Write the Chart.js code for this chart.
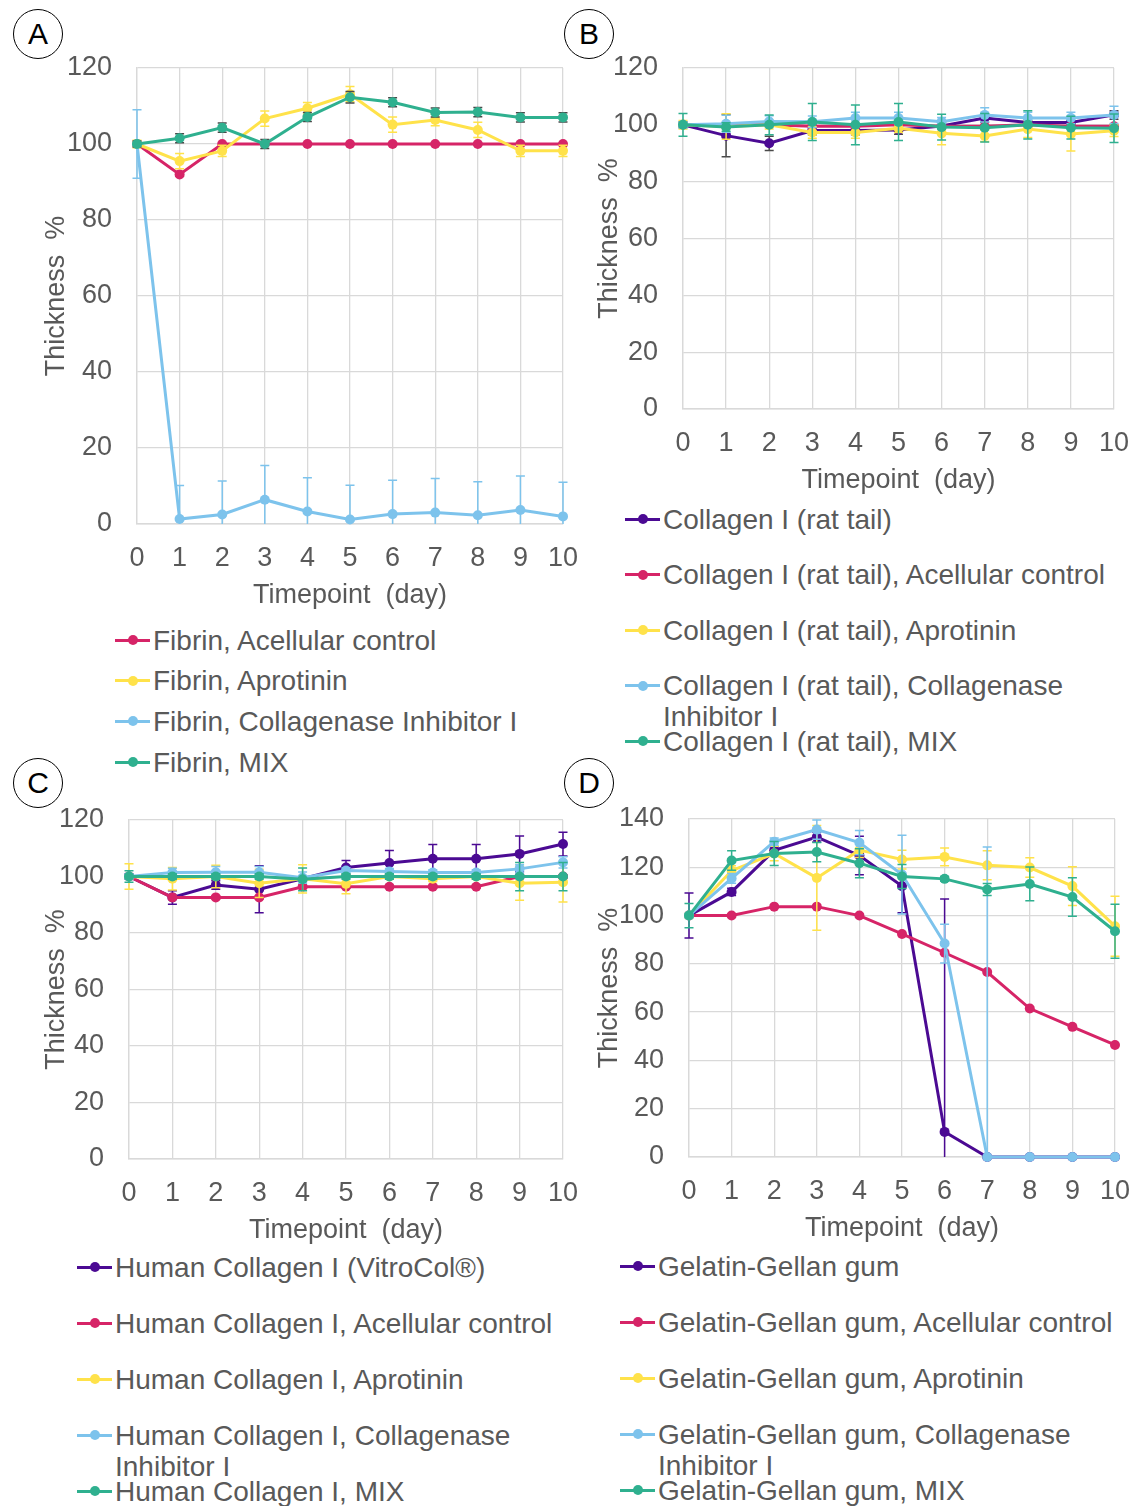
<!DOCTYPE html>
<html lang="en">
  <head>
    <meta charset="utf-8" />
    <title>Thickness % over time</title>
    <style>
      * {
        margin: 0;
        padding: 0;
      }
      body {
        width: 1142px;
        height: 1506px;
        position: relative;
        overflow: hidden;
        background: #fff;
        font-family: "Liberation Sans", Arial, sans-serif;
        color: #595959;
      }
      canvas {
        position: absolute;
      }
      .tag {
        position: absolute;
        width: 48px;
        height: 48px;
        border: 1.5px solid #000;
        border-radius: 50%;
        color: #000;
        font-size: 30px;
        line-height: 48px;
        text-align: center;
      }
      .legend {
        position: absolute;
        width: 530px;
        font-size: 28px;
      }
      .legend .item {
        position: relative;
        padding-left: 38px;
        width: 480px;
        line-height: 31px;
      }
      .legend .mark {
        position: absolute;
        left: 0;
        top: 14px;
        width: 35px;
        height: 3px;
      }
      .legend .dot {
        position: absolute;
        left: 12.5px;
        top: -3.5px;
        width: 10px;
        height: 10px;
        border-radius: 50%;
      }
    </style>
  </head>
  <body>
    <div class="tag" style="left: 13px; top: 9px">A</div>
    <div class="tag" style="left: 564px; top: 9px">B</div>
    <div class="tag" style="left: 13px; top: 758px">C</div>
    <div class="tag" style="left: 564px; top: 758px">D</div>

    <canvas id="chartA"></canvas>
    <canvas id="chartB"></canvas>
    <canvas id="chartC"></canvas>
    <canvas id="chartD"></canvas>

    <div class="legend" id="legendA" style="left: 115px; top: 624.5px"></div>
    <div class="legend" id="legendB" style="left: 625px; top: 503.5px"></div>
    <div class="legend" id="legendC" style="left: 77px; top: 1251.5px"></div>
    <div class="legend" id="legendD" style="left: 620px; top: 1250.5px"></div>

    <script src="https://cdn.jsdelivr.net/npm/chart.js/dist/chart.umd.min.js"></script>
    <script>
      // setup
      const days = ["0", "1", "2", "3", "4", "5", "6", "7", "8", "9", "10"];

      // A - fibrin
      const fibrinAcellular = [100, 92, 100, 100, 100, 100, 100, 100, 100, 100, 100];
      const fibrinAcellularErr = [0, 0.5, 0, 0, 0, 0, 0, 0, 0, 0, 0];
      const fibrinAprotinin = [100, 95.5, 98.2, 106.7, 109.4, 113.1, 105.1, 106.3, 103.7, 98.2, 98.2];
      const fibrinAprotininErr = [1, 2, 1.5, 2, 1.5, 2, 2, 1.5, 2, 1.5, 1.5];
      const fibrinInhibitor = [100, 1.3, 2.5, 6.4, 3.3, 1.2, 2.6, 3.0, 2.3, 3.7, 2.0];
      const fibrinInhibitorErr = [9, 8.8, 8.8, 9, 8.9, 9, 8.9, 9, 8.8, 8.9, 9];
      const fibrinMix = [100, 101.5, 104.3, 100, 107.1, 112.3, 111, 108.3, 108.4, 107, 107];
      const fibrinMixErr = [0.8, 1.2, 1.2, 1.2, 1.2, 1.5, 1.2, 1.2, 1.2, 1.2, 1.2];

      // B - collagen I (rat tail)
      const ratTail = [100, 96.2, 93.5, 98, 98, 98.2, 99.6, 102.4, 100.8, 100.8, 103.5];
      const ratTailErr = [1, 7.4, 2.5, 1.5, 1.5, 1.5, 1, 1.5, 1.5, 1.5, 1.5];
      const ratAcellular = [100, 100, 100, 99.5, 99.5, 100, 99.5, 99.5, 100, 99.5, 99.5];
      const ratAcellularErr = [0, 0, 0, 0, 0, 0, 0, 0, 0, 0, 0];
      const ratAprotinin = [100, 99.4, 100, 97.3, 97.3, 98.8, 97, 96.1, 98.5, 96.8, 97.9];
      const ratAprotininErr = [1.5, 4.5, 1.5, 2, 2, 1.5, 4, 2, 3, 6, 2];
      const ratInhibitor = [100, 100.4, 101.2, 101.1, 102.4, 102.4, 101.1, 103.5, 102.4, 102.4, 103.5];
      const ratInhibitorErr = [1, 3, 2, 2, 2, 2, 1.5, 2.5, 2, 2, 3];
      const ratMix = [100, 99.2, 100, 101, 100, 101, 99.2, 99, 100, 99, 98.8];
      const ratMixErr = [4, 1.5, 3.5, 6.5, 7, 6.5, 4.5, 5, 5, 4, 5];

      // C - human collagen I
      const vitroCol = [100, 92.6, 97, 95.5, 99.2, 103.2, 104.8, 106.3, 106.3, 108, 111.5];
      const vitroColErr = [1, 2.4, 1.5, 8.3, 1, 2.5, 4.4, 5, 5, 6.3, 4.2];
      const humanAcellular = [100, 92.6, 92.6, 92.6, 96.4, 96.4, 96.4, 96.4, 96.4, 100, 100];
      const humanAcellularErr = [0.5, 0.5, 0.5, 0.5, 0.5, 0.5, 0.5, 0.5, 0.5, 0.5, 0.5];
      const humanAprotinin = [100, 99.2, 100, 97.6, 99.2, 97.4, 100, 99.2, 100, 97.6, 98];
      const humanAprotininErr = [4.5, 4, 4, 5, 5, 3.5, 1, 1, 1, 6, 7];
      const humanInhibitor = [100, 101.4, 101.5, 101.5, 99.6, 102.1, 101.8, 101.4, 101.4, 102.7, 105];
      const humanInhibitorErr = [1, 1.5, 2, 2, 2, 1, 1, 1, 1, 1.5, 2];
      const humanMix = [100, 100, 100, 100, 99, 100, 100, 100, 100, 100, 100];
      const humanMixErr = [2, 1, 1, 1, 4, 1, 1, 1, 1, 5, 5];

      // D - gelatin-gellan gum
      const gellan = [100, 109.8, 127, 132.5, 124.9, 112.2, 10.4, 0, 0, 0, 0];
      const gellanErr = [9.3, 1.5, 1.5, 2, 8, 11, 96.5, 0, 0, 0, 0];
      const gellanAcellular = [100, 100, 103.7, 103.7, 100, 92.4, 84.6, 76.6, 61.5, 53.9, 46.4];
      const gellanAcellularErr = [0, 0, 0, 0, 0, 0, 0, 0, 0, 0, 0];
      const gellanAprotinin = [100, 118.6, 125.7, 115.6, 127.1, 123.2, 124.3, 120.8, 119.9, 112.2, 95.6];
      const gellanAprotininErr = [1, 2, 3, 21.7, 3, 3.9, 3.7, 6, 4, 8, 12.4];
      const gellanInhibitor = [100, 115.4, 130.6, 135.6, 130.2, 117, 88.4, 0, 0, 0, 0];
      const gellanInhibitorErr = [1, 2, 1.5, 4, 5, 16.3, 8, 128.4, 0, 0, 0];
      const gellanMix = [100, 122.8, 125.7, 126.3, 121.7, 116.2, 115.2, 110.8, 113.1, 107.7, 93.5];
      const gellanMixErr = [5, 4, 5, 4, 6, 5, 1, 2.5, 7, 8, 11.2];

      const purple = "#4B0A93";
      const pink = "#D62467";
      const yellow = "#FFE24A";
      const blue = "#7DC3EC";
      const teal = "#2FB08F";

      Chart.defaults.font.family = "'Liberation Sans', Arial, sans-serif";
      Chart.defaults.font.size = 27;
      Chart.defaults.color = "#595959";

      // error bars, drawn just under each series
      const errorBars = {
        id: "errorBars",
        beforeDatasetDraw(chart, args) {
          const ds = chart.data.datasets[args.index];
          if (!ds.errors) return;
          const y = chart.scales.y;
          const area = chart.chartArea;
          const ctx = chart.ctx;
          ctx.save();
          ctx.beginPath();
          ctx.rect(area.left - 6, area.top - 6, area.right - area.left + 12, area.bottom - area.top + 6);
          ctx.clip();
          ctx.strokeStyle = ds.errorColor || ds.borderColor;
          ctx.lineWidth = 1.5;
          args.meta.data.forEach((pt, i) => {
            const e = ds.errors[i];
            if (!e) return;
            const top = y.getPixelForValue(ds.data[i] + e);
            const bot = y.getPixelForValue(ds.data[i] - e);
            ctx.beginPath();
            ctx.moveTo(pt.x, top);
            ctx.lineTo(pt.x, bot);
            ctx.moveTo(pt.x - 4.5, top);
            ctx.lineTo(pt.x + 4.5, top);
            ctx.moveTo(pt.x - 4.5, bot);
            ctx.lineTo(pt.x + 4.5, bot);
            ctx.stroke();
          });
          ctx.restore();
        },
      };

      function makePanel(id, legendId, box, area, yTitleX, xTitleY, yMax, series, itemGap) {
        const canvas = document.getElementById(id);
        canvas.width = box.w;
        canvas.height = box.h;
        canvas.style.left = box.x + "px";
        canvas.style.top = box.y + "px";

        const half = 16.2; // half of title line height (27 * 1.2 / 2)
        const padLeft = yTitleX - half - box.x;
        const yWidth = area.l - box.x - padLeft;
        const xBottom = xTitleY + half;
        const xHeight = xBottom - area.b;

        const datasets = series.map((s, i) => ({
          label: s.label,
          data: s.data,
          errors: s.err,
          errorColor: s.errColor,
          borderColor: s.color,
          backgroundColor: s.color,
          pointBackgroundColor: s.color,
          pointBorderColor: s.color,
          borderWidth: 3,
          pointRadius: 5,
          pointBorderWidth: 0,
          tension: 0,
          clip: false,
          order: series.length - i,
        }));

        const chart = new Chart(canvas, {
          type: "line",
          data: { labels: days, datasets },
          options: {
            responsive: false,
            animation: false,
            layout: {
              padding: {
                left: padLeft,
                top: area.t - box.y,
                right: box.x + box.w - area.r,
                bottom: box.y + box.h - xBottom,
              },
            },
            plugins: { legend: { display: false }, tooltip: { enabled: false } },
            scales: {
              x: {
                grid: { color: "#d9d9d9", lineWidth: 1.3, drawTicks: false },
                border: { color: "#d9d9d9", width: 1.5 },
                ticks: { padding: 18, maxRotation: 0, autoSkip: false },
                title: { display: true, text: "Timepoint  (day)", padding: 0 },
                afterFit(scale) {
                  scale.height = xHeight;
                  scale.paddingLeft = 0;
                  scale.paddingRight = 0;
                },
              },
              y: {
                min: 0,
                max: yMax,
                grid: { color: "#d9d9d9", lineWidth: 1.3, drawTicks: false },
                border: { color: "#d9d9d9", width: 1.3 },
                ticks: { stepSize: 20, padding: 25 },
                title: { display: true, text: "Thickness  %", padding: 0 },
                afterFit(scale) {
                  scale.width = yWidth;
                  scale.paddingTop = 0;
                  scale.paddingBottom = 0;
                },
              },
            },
          },
          plugins: [errorBars],
        });

        // html legend
        const legend = document.getElementById(legendId);
        chart.data.datasets.forEach((ds) => {
          const item = document.createElement("div");
          item.className = "item";
          item.style.height = itemGap + "px";
          const mark = document.createElement("span");
          mark.className = "mark";
          mark.style.background = ds.borderColor;
          const dot = document.createElement("span");
          dot.className = "dot";
          dot.style.background = ds.borderColor;
          mark.appendChild(dot);
          item.appendChild(mark);
          item.appendChild(document.createTextNode(ds.label));
          legend.appendChild(item);
        });
        return chart;
      }

      makePanel(
        "chartA",
        "legendA",
        { x: 0, y: 40, w: 580, h: 580 },
        { l: 137, t: 68, r: 563, b: 524 },
        57,
        596,
        120,
        [
          { label: "Fibrin, Acellular control", data: fibrinAcellular, err: fibrinAcellularErr, color: pink },
          { label: "Fibrin, Aprotinin", data: fibrinAprotinin, err: fibrinAprotininErr, color: yellow },
          { label: "Fibrin, Collagenase Inhibitor I", data: fibrinInhibitor, err: fibrinInhibitorErr, color: blue },
          { label: "Fibrin, MIX", data: fibrinMix, err: fibrinMixErr, color: teal, errColor: "#4a4a4a" },
        ],
        40.7
      );

      makePanel(
        "chartB",
        "legendB",
        { x: 580, y: 40, w: 562, h: 460 },
        { l: 683, t: 68, r: 1114, b: 409 },
        610,
        481,
        120,
        [
          { label: "Collagen I (rat tail)", data: ratTail, err: ratTailErr, color: purple, errColor: "#4a4a4a" },
          { label: "Collagen I (rat tail), Acellular control", data: ratAcellular, err: ratAcellularErr, color: pink },
          { label: "Collagen I (rat tail), Aprotinin", data: ratAprotinin, err: ratAprotininErr, color: yellow },
          { label: "Collagen I (rat tail), Collagenase Inhibitor I", data: ratInhibitor, err: ratInhibitorErr, color: blue },
          { label: "Collagen I (rat tail), MIX", data: ratMix, err: ratMixErr, color: teal },
        ],
        55.5
      );

      makePanel(
        "chartC",
        "legendC",
        { x: 0, y: 790, w: 580, h: 460 },
        { l: 129, t: 820, r: 563, b: 1159 },
        57,
        1231,
        120,
        [
          { label: "Human Collagen I (VitroCol®)", data: vitroCol, err: vitroColErr, color: purple },
          { label: "Human Collagen I, Acellular control", data: humanAcellular, err: humanAcellularErr, color: pink },
          { label: "Human Collagen I, Aprotinin", data: humanAprotinin, err: humanAprotininErr, color: yellow },
          { label: "Human Collagen I, Collagenase Inhibitor I", data: humanInhibitor, err: humanInhibitorErr, color: blue },
          { label: "Human Collagen I, MIX", data: humanMix, err: humanMixErr, color: teal },
        ],
        56
      );

      makePanel(
        "chartD",
        "legendD",
        { x: 580, y: 790, w: 562, h: 460 },
        { l: 689, t: 819, r: 1115, b: 1157 },
        610,
        1229,
        140,
        [
          { label: "Gelatin-Gellan gum", data: gellan, err: gellanErr, color: purple },
          { label: "Gelatin-Gellan gum, Acellular control", data: gellanAcellular, err: gellanAcellularErr, color: pink },
          { label: "Gelatin-Gellan gum, Aprotinin", data: gellanAprotinin, err: gellanAprotininErr, color: yellow },
          { label: "Gelatin-Gellan gum, Collagenase Inhibitor I", data: gellanInhibitor, err: gellanInhibitorErr, color: blue },
          { label: "Gelatin-Gellan gum, MIX", data: gellanMix, err: gellanMixErr, color: teal },
        ],
        56
      );
    </script>
  </body>
</html>
